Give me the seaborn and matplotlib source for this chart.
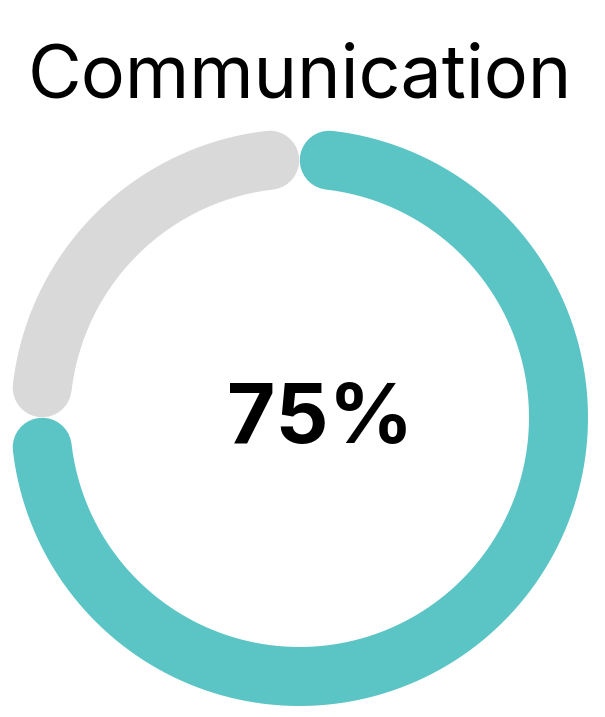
import numpy as np
import matplotlib
matplotlib.use('Agg')
import matplotlib.pyplot as plt
import seaborn as sns

# data
title = 'Communication'
segments = ['Done', 'Remaining']
values = [75, 25]
colors = ['#5BC4C4', '#D9D9D9']
center_label = '75%'

sns.set_theme(style='white')
plt.rcParams['font.family'] = ['Inter', 'DejaVu Sans']

fig = plt.figure(figsize=(6.05, 7.17), dpi=100)
W, H = 605, 717
# polar axes: centre at (299.5, 417.5) px from top, rmax = 300 px
cx, cy, R = 299.5, 417.5, 300
ax = fig.add_axes([(cx - R) / W, (H - cy - R) / H, 2 * R / W, 2 * R / H],
                  projection='polar')
ax.set_theta_zero_location('N')
ax.set_theta_direction(-1)
ax.set_ylim(0, 1)
ax.set_axis_off()

ring_r = 259 / R
gap = np.deg2rad(6.6)  # half-gap at each end of a segment
total = sum(values)
start = 0
for name, v, c in zip(segments, values, colors):
    a0 = 2 * np.pi * start / total + gap
    a1 = 2 * np.pi * (start + v) / total - gap
    theta = np.linspace(a0, a1, 300)
    ax.plot(theta, np.full_like(theta, ring_r), color=c, lw=59 * 72 / 100,
            solid_capstyle='round', clip_on=False)
    start += v

fig.text(cx / W, 1 - 97 / H, title, ha='center', va='baseline',
         fontsize=53, color='black')
fig.text(320 / W, 1 - 443 / H, center_label, ha='center', va='baseline',
         fontsize=60, fontweight='bold', color='black')

fig.savefig('out.png', dpi=100)
